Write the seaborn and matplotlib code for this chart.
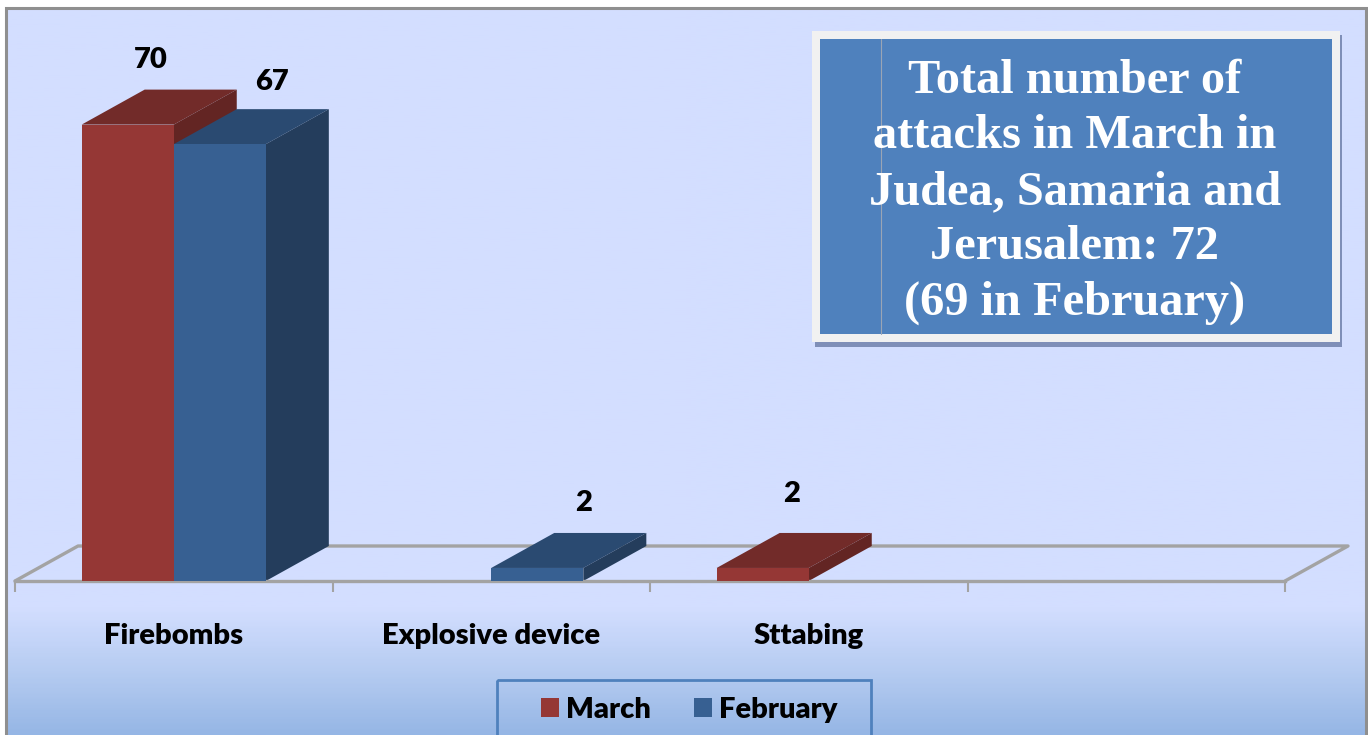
import numpy as np
import pandas as pd
import matplotlib
matplotlib.use('Agg')
import matplotlib.pyplot as plt
from matplotlib.patches import Polygon, Rectangle
from matplotlib.colors import LinearSegmentedColormap
import seaborn as sns

# datos de la figura
categories = ['Firebombs', 'Explosive device', 'Sttabing', '']
march = [70, 0, 2, 0]
february = [67, 2, 0, 0]
series_names = ['March', 'February']
box_lines = ['Total number of', 'attacks in March in', 'Judea, Samaria and', 'Jerusalem: 72', '(69 in February)']

W, H = 1368, 735
colors = {'March': '#953735', 'February': '#376092'}
top_colors = {'March': '#722B29', 'February': '#2A4A71'}
side_colors = {'March': '#632523', 'February': '#243D5C'}
BG = '#D3DEFF'
GREY = '#A3A3A3'
LABEL_SIZE = 21
LABEL_WEIGHT = 'heavy'

sns.set_theme(style='white')
plt.rcParams['font.family'] = ['Lato', 'DejaVu Sans']

fig = plt.figure(figsize=(W / 100, H / 100), dpi=100, facecolor='white')


def px_rect(x0, y0, x1, y1):
	# pixeles de la imagen (origen arriba) a fracciones de la figura
	return [x0 / W, 1 - y1 / H, (x1 - x0) / W, (y1 - y0) / H]


# Fondo: degradado, marco y recuadro de texto en coordenadas de pixel
bg = fig.add_axes([0, 0, 1, 1], zorder=0)
bg.set_xlim(0, W)
bg.set_ylim(H, 0)
bg.axis('off')
cmap = LinearSegmentedColormap.from_list('fondo', [(0, BG), (0.825, BG), (0.92, '#B3CAF0'), (1, '#95B6E5')])
grad = np.linspace(0, 1, 400).reshape(-1, 1)
bg.imshow(grad, cmap=cmap, extent=(7, 1365, 737, 9), aspect='auto', zorder=0)
bg.set_xlim(0, W)
bg.set_ylim(H, 0)
bg.plot([6, 6, 1366, 1366], [736, 8, 8, 736], color='#8F8F8F', lw=2.2, zorder=1, solid_joinstyle='miter')

bg.add_patch(Rectangle((815, 35), 527, 312, fc='#7F8FB8', ec='none', zorder=2))
bg.add_patch(Rectangle((812, 31), 528, 311, fc='#F1F1F1', ec='none', zorder=3))
bg.add_patch(Rectangle((820, 39), 512, 295, fc='#4F81BD', ec='none', zorder=4))
bg.plot([880.5, 880.5], [39, 334], color='#9AA5B5', lw=0.8, zorder=5)
for line, y in zip(box_lines, [81, 136, 192, 247, 303]):
	bg.text(1075, y, line, ha='center', va='center', color='white', fontsize=34.8,
		fontweight='bold', family='Liberation Serif', zorder=6)

# marco de la leyenda (sigue por debajo del borde de la imagen)
bg.add_patch(Rectangle((497, 680), 374, 70, fc='none', ec='#4F81BD', lw=2, zorder=2))

# Ejes del grafico: y=0 en la base del piso, 6.52 px por unidad
ax = fig.add_axes(px_rect(15, 60, 1285, 581), zorder=1)
ax.patch.set_visible(False)

df = pd.DataFrame({
	'category': categories * 2,
	'series': ['March'] * len(categories) + ['February'] * len(categories),
	'value': march + february,
})
sns.barplot(data=df, x='category', y='value', hue='series', hue_order=series_names,
	palette=colors, saturation=1, width=0.58, gap=0, linewidth=0, ax=ax, zorder=3)
ax.set_xlim(-0.5, 3.5)
ax.set_ylim(0, 521 / 6.52)

# Profundidad 3D
dx = 63 / (1270 / 4)
dy = 35 / 6.52

# Piso
ax.plot([-0.5, -0.5 + dx, 3.5 + dx, 3.5], [0, dy, dy, 0], color=GREY, lw=2.4, clip_on=False, zorder=1)

for name, cont in zip(series_names, ax.containers):
	for bar in cont:
		x0, w, h = bar.get_x(), bar.get_width(), bar.get_height()
		if h == 0:
			continue
		x1 = x0 + w
		ax.add_patch(Polygon([(x0, h), (x0 + dx, h + dy), (x1 + dx, h + dy), (x1, h)],
			fc=top_colors[name], ec='none', clip_on=False, zorder=2))
		ax.add_patch(Polygon([(x1, 0), (x1 + dx, dy), (x1 + dx, h + dy), (x1, h)],
			fc=side_colors[name], ec='none', clip_on=False, zorder=2))

# Etiquetas de valor, desplazamiento en pixeles desde el centro superior de la barra
label_offsets = {('March', 0): (23, 65), ('February', 0): (52, 62), ('February', 1): (46, 65), ('March', 2): (29, 74)}
for name, cont in zip(series_names, ax.containers):
	for i, bar in enumerate(cont):
		h = bar.get_height()
		if h == 0:
			continue
		off = label_offsets[(name, i)]
		ax.annotate(f'{h:.0f}', (bar.get_x() + bar.get_width() / 2, h),
			xytext=(off[0] * 0.72, off[1] * 0.72), textcoords='offset points',
			ha='center', va='center', fontsize=LABEL_SIZE, fontweight=LABEL_WEIGHT, color='black',
			annotation_clip=False, zorder=6)

# Ejes y marcas
ax.set_xlabel('')
ax.set_ylabel('')
ax.set_yticks([])
sns.despine(ax=ax, left=True)
ax.spines['bottom'].set_color(GREY)
ax.spines['bottom'].set_linewidth(2.4)
ax.set_xticks(np.arange(-0.5, 4), minor=True)
ax.tick_params(axis='x', which='minor', bottom=True, length=8, width=1.5, color=GREY)
ax.tick_params(axis='x', which='major', bottom=False, length=0, pad=30.5)
for t in ax.get_xticklabels():
	t.set_fontsize(LABEL_SIZE)
	t.set_fontweight(LABEL_WEIGHT)
	t.set_color('black')

# Leyenda
handles, labels = ax.get_legend_handles_labels()
leg = ax.legend(handles, labels, ncols=2, loc='upper left',
	bbox_to_anchor=(541 / W, 1 - 697 / H), bbox_transform=fig.transFigure, borderaxespad=0,
	handlelength=0.62, handleheight=0.62, handletextpad=0.25,
	columnspacing=1.45, borderpad=0, frameon=False,
	prop={'weight': LABEL_WEIGHT, 'size': LABEL_SIZE})
for t in leg.get_texts():
	t.set_color('black')

fig.savefig('out.png', dpi=100)
